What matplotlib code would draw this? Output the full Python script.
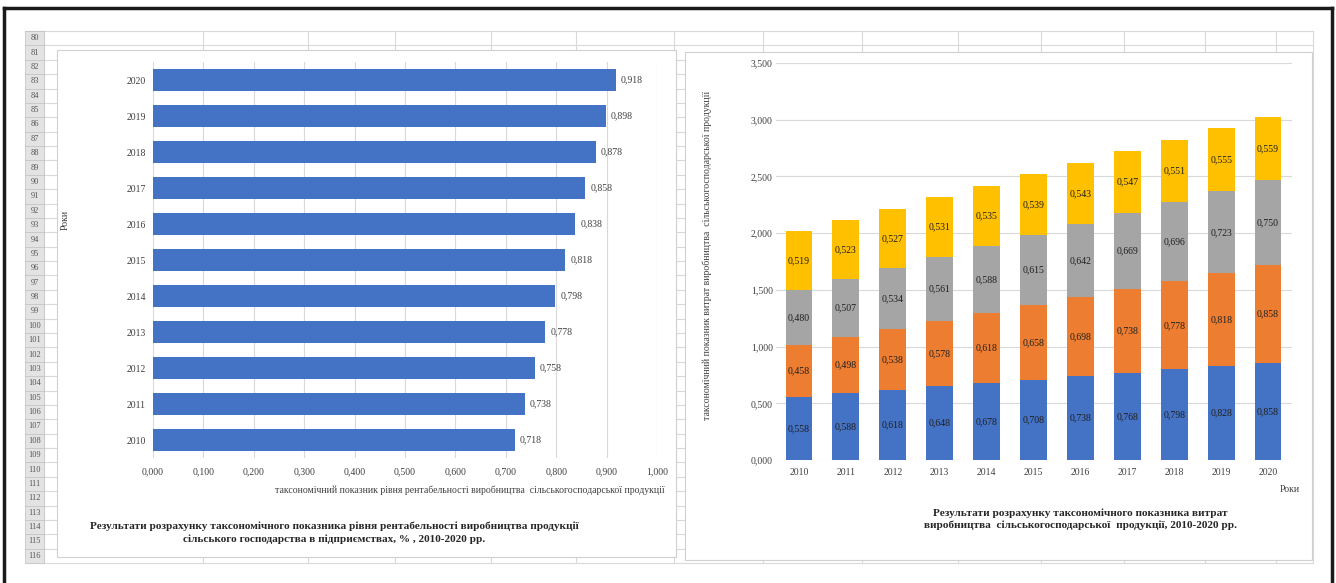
import numpy as np
import matplotlib.pyplot as plt
from matplotlib.patches import Rectangle

# Values
years = ['2010', '2011', '2012', '2013', '2014', '2015', '2016', '2017', '2018', '2019', '2020']
profit_index = [0.718, 0.738, 0.758, 0.778, 0.798, 0.818, 0.838, 0.858, 0.878, 0.898, 0.918]

cost_blue = [0.558, 0.588, 0.618, 0.648, 0.678, 0.708, 0.738, 0.768, 0.798, 0.828, 0.858]
cost_orange = [0.458, 0.498, 0.538, 0.578, 0.618, 0.658, 0.698, 0.738, 0.778, 0.818, 0.858]
cost_gray = [0.480, 0.507, 0.534, 0.561, 0.588, 0.615, 0.642, 0.669, 0.696, 0.723, 0.750]
cost_yellow = [0.519, 0.523, 0.527, 0.531, 0.535, 0.539, 0.543, 0.547, 0.551, 0.555, 0.559]

left_ticks = [0.0, 0.1, 0.2, 0.3, 0.4, 0.5, 0.6, 0.7, 0.8, 0.9, 1.0]
right_ticks = [0.0, 0.5, 1.0, 1.5, 2.0, 2.5, 3.0, 3.5]

plt.rcParams['font.family'] = ['Liberation Serif', 'DejaVu Serif']

W, H = 1336, 583
fig = plt.figure(figsize=(W / 100, H / 100), dpi=100)


def fmt(v):
    return f'{v:.3f}'.replace('.', ',')


def px_axes(x0, y0, x1, y1):
    return fig.add_axes([x0 / W, 1 - y1 / H, (x1 - x0) / W, (y1 - y0) / H])


# Background: spreadsheet grid and black frame
bg = fig.add_axes([0, 0, 1, 1])
bg.set_xlim(0, W)
bg.set_ylim(H, 0)
bg.axis('off')

row_top, row_h = 31, 14.38
grid_c = '#D9D9D9'
for i in range(38):
    y = row_top + i * row_h
    bg.plot([25, 1313], [y, y], color=grid_c, lw=0.8, zorder=1)
for x in [44, 203, 308, 395, 491, 576, 674, 763, 862, 958, 1041, 1124, 1205, 1276, 1313]:
    bg.plot([x, x], [row_top, row_top + 37 * row_h], color=grid_c, lw=0.8, zorder=1)

# row header
bg.add_patch(Rectangle((25, row_top), 19, 37 * row_h, facecolor='#E3E3E3', edgecolor='#C8C8C8',
                       lw=0.6, zorder=3))
for i in range(37):
    y = row_top + i * row_h
    bg.plot([25, 44], [y, y], color='#C4C4C4', lw=0.6, zorder=4)
    bg.text(34.5, y + row_h / 2, str(80 + i), ha='center', va='center', fontsize=6,
            color='#555555', zorder=4)

# chart areas cover the sheet grid
bg.add_patch(Rectangle((57, 50), 619, 507, facecolor='white', edgecolor='#D0D0D0', lw=0.8, zorder=5))
bg.add_patch(Rectangle((685, 52), 627, 508, facecolor='white', edgecolor='#D0D0D0', lw=0.8, zorder=5))

# frame
bg.plot([4, 4], [8, H], color='#1A1A1A', lw=2.5, zorder=6)
bg.plot([4, 1332], [8, 8], color='#1A1A1A', lw=2.5, zorder=6)
bg.plot([1332, 1332], [8, H], color='#1A1A1A', lw=2.5, zorder=6)

txt_c = '#404040'
fs = 7

# Left chart: horizontal bars
ax1 = px_axes(153, 62, 657, 458)
ax1.set_facecolor('none')
y = np.arange(len(years))
ax1.barh(y, profit_index, height=0.6, color='#4472C4', zorder=3)
for yi, v in zip(y, profit_index):
    ax1.text(v + 0.01, yi, fmt(v), ha='left', va='center', fontsize=fs, color=txt_c)
ax1.set_xlim(0, 1.0)
ax1.set_ylim(-0.5, len(years) - 0.5)
ax1.set_xticks(left_ticks)
ax1.set_xticklabels([fmt(t) for t in left_ticks])
ax1.set_yticks(y)
ax1.set_yticklabels(years)
ax1.grid(axis='x', color=grid_c, lw=0.8, zorder=0)
ax1.tick_params(length=0, labelsize=fs, labelcolor=txt_c)
ax1.tick_params(axis='x', pad=7)
ax1.tick_params(axis='y', pad=5)
for s in ax1.spines.values():
    s.set_visible(False)

bg.text(470, 490, 'таксономічний показник рівня рентабельності виробництва  сільськогосподарської продукції',
        ha='center', va='center', fontsize=7, color=txt_c, zorder=7)
bg.text(65, 220, 'Роки', ha='center', va='center', rotation=90, fontsize=7, color=txt_c, zorder=7)
bg.text(334, 533, 'Результати розрахунку таксономічного показника рівня рентабельності виробництва продукції\n'
        'сільського господарства в підприємствах, % , 2010-2020 рр.',
        ha='center', va='center', fontsize=8.1, fontweight='bold', color='#262626', linespacing=1.45, zorder=7)

# Right chart: stacked columns
ax2 = px_axes(775.5, 63, 1291.5, 460)
ax2.set_facecolor('none')
x = np.arange(len(years))
bottom = np.zeros(len(years))
for vals, col in [(cost_blue, '#4472C4'), (cost_orange, '#ED7D31'),
                  (cost_gray, '#A5A5A5'), (cost_yellow, '#FFC000')]:
    ax2.bar(x, vals, width=0.57, bottom=bottom, color=col, zorder=3)
    for xi, b, v in zip(x, bottom, vals):
        ax2.text(xi, b + v / 2, fmt(v), ha='center', va='center', fontsize=fs, color='#1F1F1F', zorder=4)
    bottom = bottom + np.array(vals)
ax2.set_xlim(-0.5, len(years) - 0.5)
ax2.set_ylim(0, 3.5)
ax2.set_yticks(right_ticks)
ax2.set_yticklabels([fmt(t) for t in right_ticks])
ax2.set_xticks(x)
ax2.set_xticklabels(years)
ax2.grid(axis='y', color=grid_c, lw=0.8, zorder=0)
ax2.tick_params(length=0, labelsize=fs, labelcolor=txt_c)
ax2.tick_params(axis='x', pad=6)
ax2.tick_params(axis='y', pad=2)
for s in ax2.spines.values():
    s.set_visible(False)

bg.text(707, 255, 'таксономічний показник витрат виробництва  сільськогосподарської продукції',
        ha='center', va='center', rotation=90, fontsize=7, color=txt_c, zorder=7)
bg.text(1290, 490, 'Роки', ha='center', va='center', fontsize=7, color=txt_c, zorder=7)
bg.text(1080, 519, 'Результати розрахунку таксономічного показника витрат\n'
        'виробництва  сільськогосподарської  продукції, 2010-2020 рр.',
        ha='center', va='center', fontsize=8.1, fontweight='bold', color='#262626', linespacing=1.35, zorder=7)

fig.savefig('out.png', dpi=100)
